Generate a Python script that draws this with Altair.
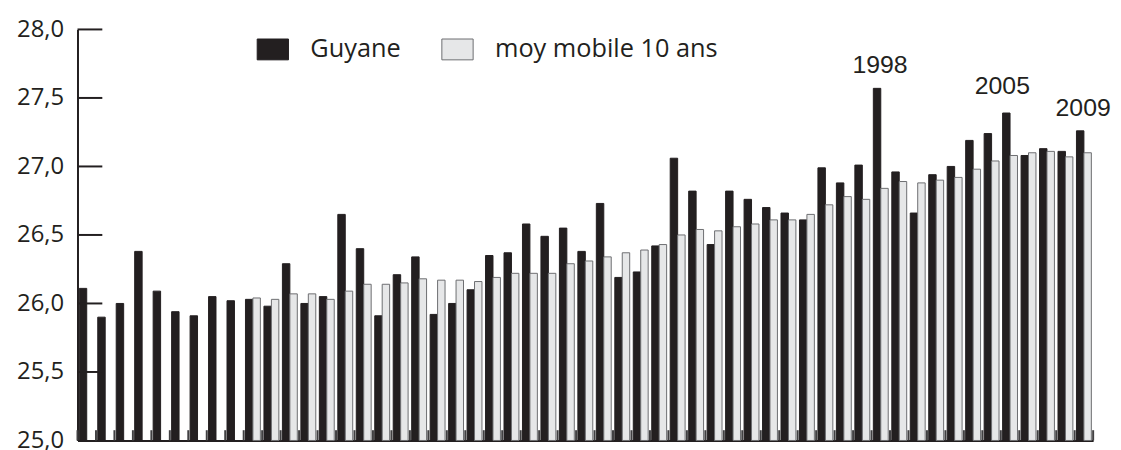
import altair as alt
import pandas as pd

years = list(range(1955, 2010))
guyane = [26.11, 25.90, 26.00, 26.38, 26.09, 25.94, 25.91, 26.05, 26.02, 26.03,
          25.98, 26.29, 26.00, 26.05, 26.65, 26.40, 25.91, 26.21, 26.34, 25.92,
          26.00, 26.10, 26.35, 26.37, 26.58, 26.49, 26.55, 26.38, 26.73, 26.19,
          26.23, 26.42, 27.06, 26.82, 26.43, 26.82, 26.76, 26.70, 26.66, 26.61,
          26.99, 26.88, 27.01, 27.57, 26.96, 26.66, 26.94, 27.00, 27.19, 27.24,
          27.39, 27.08, 27.13, 27.11, 27.26]
moy_years = list(range(1964, 2010))
moy = [26.04, 26.03, 26.07, 26.07, 26.03, 26.09, 26.14, 26.14, 26.15, 26.18,
       26.17, 26.17, 26.16, 26.19, 26.22, 26.22, 26.22, 26.29, 26.31, 26.34,
       26.37, 26.39, 26.43, 26.50, 26.54, 26.53, 26.56, 26.58, 26.61, 26.61,
       26.65, 26.72, 26.78, 26.76, 26.84, 26.89, 26.88, 26.90, 26.92, 26.98,
       27.04, 27.08, 27.10, 27.11, 27.07, 27.10]
series_names = ["Guyane", "moy mobile 10 ans"]
y_ticks = [25.5, 26.0, 26.5, 27.0, 27.5, 28.0]
y_labels = [25.0, 25.5, 26.0, 26.5, 27.0, 27.5, 28.0]
annot_years = [1998, 2005, 2009]

rows = [{"year": y, "series": series_names[0], "value": v} for y, v in zip(years, guyane)]
rows += [{"year": y, "series": series_names[1], "value": v} for y, v in zip(moy_years, moy)]
df = pd.DataFrame(rows)
ann = df[(df.series == series_names[0]) & (df.year.isin(annot_years))].copy()
ann["label"] = ann.year.astype(str)
ticks_df = pd.DataFrame({"year": years})
ytick_df = pd.DataFrame({"yt": y_ticks})

INK = "#231f20"
x_scale = alt.Scale(paddingInner=0, paddingOuter=0)
xo_scale = alt.Scale(domain=series_names, paddingInner=0, paddingOuter=0.24)
y_scale = alt.Scale(domain=[25, 28], nice=False, zero=False)

x_enc = alt.X("year:O", scale=x_scale,
              axis=alt.Axis(labels=False, ticks=False, title=None, domainWidth=2,
                            domainColor=INK, grid=False))
y_enc = alt.Y("value:Q", scale=y_scale,
              axis=alt.Axis(values=y_labels, tickSize=0, grid=False, title=None,
                            domainWidth=2, domainColor=INK,
                            labelExpr="replace(format(datum.value, '.1f'), '.', ',')",
                            labelFont="Open Sans", labelFontSize=24, labelColor=INK,
                            labelPadding=14))

rect_path = "M-1.5,-1H1.5V1H-1.5Z"

bars = alt.Chart(df).mark_bar(strokeWidth=1).encode(
    x=x_enc,
    xOffset=alt.XOffset("series:N", scale=xo_scale),
    y=y_enc,
    y2=alt.datum(25),
    fill=alt.Fill("series:N",
                  scale=alt.Scale(domain=series_names, range=[INK, "#e6e7e8"]),
                  legend=alt.Legend(title=None, orient="none", legendX=184, legendY=7,
                                    direction="horizontal", symbolType=rect_path,
                                    symbolSize=441, symbolStrokeWidth=1,
                                    labelFont="Open Sans", labelFontSize=25.5,
                                    labelColor=INK, labelOffset=25, columnPadding=39,
                                    labelLimit=0, padding=0)),
    stroke=alt.Stroke("series:N",
                      scale=alt.Scale(domain=series_names, range=[INK, "#6d6e71"]),
                      legend=None),
)

btm_ticks = alt.Chart(ticks_df).mark_rule(color="#414042", strokeWidth=2).encode(
    x=alt.X("year:O", bandPosition=0),
    y=alt.datum(25),
    y2=alt.datum(25.075),
)
end_tick = alt.Chart(ticks_df[ticks_df.year == years[-1]]).mark_rule(
    color="#414042", strokeWidth=2).encode(
    x=alt.X("year:O", bandPosition=1),
    y=alt.datum(25),
    y2=alt.datum(25.075),
)
left_ticks = alt.Chart(ytick_df).mark_rule(color=INK, strokeWidth=2).encode(
    y=alt.Y("yt:Q"),
    x=alt.value(0),
    x2=alt.value(25),
)

text_base = alt.Chart(ann)
labels_a = text_base.transform_filter(alt.datum.year != 2005).mark_text(
    font="Liberation Sans", fontSize=25, color=INK, baseline="alphabetic",
    align="center", dy=-15, dx=3).encode(
    x="year:O", xOffset="series:N", y="value:Q", text="label:N")
labels_b = text_base.transform_filter(alt.datum.year == 2005).mark_text(
    font="Liberation Sans", fontSize=25, color=INK, baseline="alphabetic",
    align="center", dy=-19, dx=-4).encode(
    x="year:O", xOffset="series:N", y="value:Q", text="label:N")

chart = alt.layer(bars, btm_ticks, end_tick, left_ticks, labels_a, labels_b).properties(
    width=1023, height=414,
    autosize=alt.AutoSizeParams(type="none"),
    padding={"left": 70, "top": 20, "right": 20, "bottom": 8},
    background="white",
).configure_view(stroke=None)

chart.save("out.html", embed_options={"renderer": "svg", "actions": False})
